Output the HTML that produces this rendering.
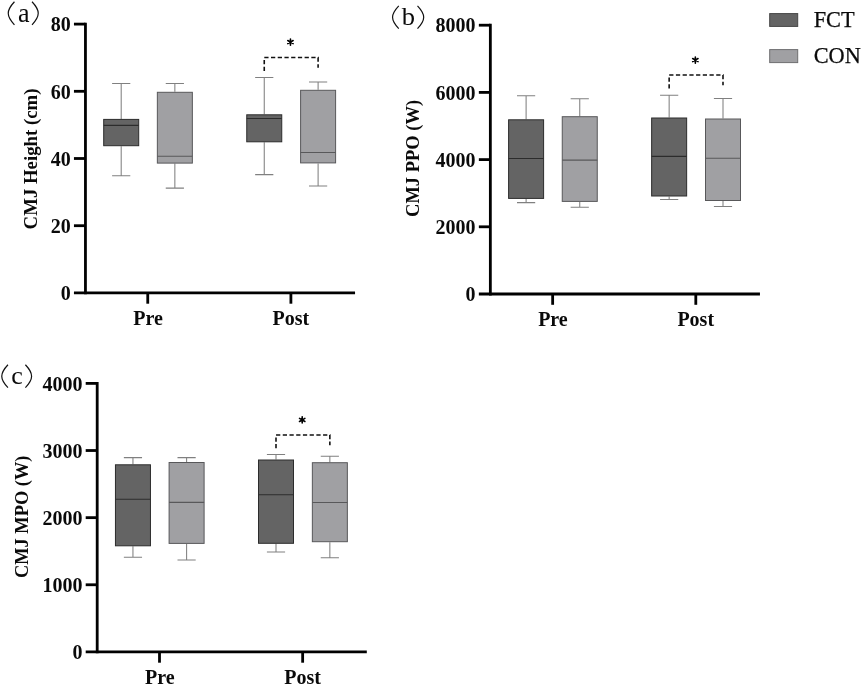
<!DOCTYPE html>
<html>
<head>
<meta charset="utf-8">
<title>CMJ box plots</title>
<style>
html,body{margin:0;padding:0;background:#ffffff;}
body{width:863px;height:686px;overflow:hidden;font-family:'Liberation Serif', serif;}
svg{display:block;will-change:transform;opacity:0.999;}
svg text{font-family:'Liberation Serif', serif;fill:#0a0a0a;}
</style>
</head>
<body>
<svg width="863" height="686" viewBox="0 0 863 686">
<rect x="0" y="0" width="863" height="686" fill="#ffffff"/>
<path d="M121.20,83.40V118.90M121.20,146.20V175.80M112.10,83.40H130.30M112.10,175.80H130.30" stroke="#808080" stroke-width="1.05" fill="none"/>
<rect x="103.70" y="119.40" width="35.00" height="26.30" fill="#646464" stroke="#2c2c2c" stroke-width="1"/>
<path d="M103.70,125.40H138.70" stroke="#2c2c2c" stroke-width="1.1"/>
<path d="M174.85,83.40V91.80M174.85,163.60V188.10M165.75,83.40H183.95M165.75,188.10H183.95" stroke="#808080" stroke-width="1.05" fill="none"/>
<rect x="157.35" y="92.30" width="35.00" height="70.80" fill="#a0a0a3" stroke="#58585a" stroke-width="1"/>
<path d="M157.35,156.30H192.35" stroke="#58585a" stroke-width="1.1"/>
<path d="M264.25,77.50V114.30M264.25,142.30V174.60M255.15,77.50H273.35M255.15,174.60H273.35" stroke="#808080" stroke-width="1.05" fill="none"/>
<rect x="246.75" y="114.80" width="35.00" height="27.00" fill="#646464" stroke="#2c2c2c" stroke-width="1"/>
<path d="M246.75,118.50H281.75" stroke="#2c2c2c" stroke-width="1.1"/>
<path d="M318.10,81.90V89.80M318.10,163.40V186.00M309.00,81.90H327.20M309.00,186.00H327.20" stroke="#808080" stroke-width="1.05" fill="none"/>
<rect x="300.60" y="90.30" width="35.00" height="72.60" fill="#a0a0a3" stroke="#58585a" stroke-width="1"/>
<path d="M300.60,152.50H335.60" stroke="#58585a" stroke-width="1.1"/>
<path d="M85.45,22.70V294.30" stroke="#000" stroke-width="2.8" fill="none"/>
<path d="M73.95,292.90H355.05" stroke="#000" stroke-width="2.8" fill="none"/>
<path d="M73.95,24.10H85.45" stroke="#000" stroke-width="2.8" fill="none"/>
<path d="M73.95,91.30H85.45" stroke="#000" stroke-width="2.8" fill="none"/>
<path d="M73.95,158.50H85.45" stroke="#000" stroke-width="2.8" fill="none"/>
<path d="M73.95,225.70H85.45" stroke="#000" stroke-width="2.8" fill="none"/>
<path d="M147.75,292.90V303.70" stroke="#000" stroke-width="2.8" fill="none"/>
<path d="M290.90,292.90V303.70" stroke="#000" stroke-width="2.8" fill="none"/>
<text x="70.65" y="31.30" text-anchor="end" font-size="20" font-weight="bold">80</text>
<text x="70.65" y="98.50" text-anchor="end" font-size="20" font-weight="bold">60</text>
<text x="70.65" y="165.70" text-anchor="end" font-size="20" font-weight="bold">40</text>
<text x="70.65" y="232.90" text-anchor="end" font-size="20" font-weight="bold">20</text>
<text x="70.65" y="300.10" text-anchor="end" font-size="20" font-weight="bold">0</text>
<text x="148.05" y="325.15" text-anchor="middle" font-size="20" font-weight="bold">Pre</text>
<text x="290.85" y="325.15" text-anchor="middle" font-size="20" font-weight="bold">Post</text>
<text transform="translate(36.90,159.00) rotate(-90)" text-anchor="middle" font-size="18.8" font-weight="bold">CMJ Height (cm)</text>
<path d="M264.25,70.90V57.50H318.10V67.80" stroke="#111" stroke-width="1.6" fill="none" stroke-dasharray="4.25 2.47" stroke-linejoin="miter"/>
<path d="M290.45,39.00L290.45,45.20M287.77,40.55L293.13,43.65M293.13,40.55L287.77,43.65" stroke="#000" stroke-width="1.6" stroke-linecap="round" fill="none"/>
<circle cx="290.45" cy="42.10" r="1.3" fill="#000"/>
<path d="M526.10,95.70V119.30M526.10,198.90V202.60M517.00,95.70H535.20M517.00,202.60H535.20" stroke="#808080" stroke-width="1.05" fill="none"/>
<rect x="508.60" y="119.80" width="35.00" height="78.60" fill="#646464" stroke="#2c2c2c" stroke-width="1"/>
<path d="M508.60,158.50H543.60" stroke="#2c2c2c" stroke-width="1.1"/>
<path d="M579.75,98.70V116.20M579.75,201.90V207.30M570.65,98.70H588.85M570.65,207.30H588.85" stroke="#808080" stroke-width="1.05" fill="none"/>
<rect x="562.25" y="116.70" width="35.00" height="84.70" fill="#a0a0a3" stroke="#58585a" stroke-width="1"/>
<path d="M562.25,160.10H597.25" stroke="#58585a" stroke-width="1.1"/>
<path d="M669.15,95.30V117.50M669.15,196.50V199.40M660.05,95.30H678.25M660.05,199.40H678.25" stroke="#808080" stroke-width="1.05" fill="none"/>
<rect x="651.65" y="118.00" width="35.00" height="78.00" fill="#646464" stroke="#2c2c2c" stroke-width="1"/>
<path d="M651.65,156.40H686.65" stroke="#2c2c2c" stroke-width="1.1"/>
<path d="M723.00,98.40V118.50M723.00,201.00V206.50M713.90,98.40H732.10M713.90,206.50H732.10" stroke="#808080" stroke-width="1.05" fill="none"/>
<rect x="705.50" y="119.00" width="35.00" height="81.50" fill="#a0a0a3" stroke="#58585a" stroke-width="1"/>
<path d="M705.50,158.20H740.50" stroke="#58585a" stroke-width="1.1"/>
<path d="M490.35,23.80V295.40" stroke="#000" stroke-width="2.8" fill="none"/>
<path d="M478.85,294.00H759.95" stroke="#000" stroke-width="2.8" fill="none"/>
<path d="M478.85,25.20H490.35" stroke="#000" stroke-width="2.8" fill="none"/>
<path d="M478.85,92.40H490.35" stroke="#000" stroke-width="2.8" fill="none"/>
<path d="M478.85,159.60H490.35" stroke="#000" stroke-width="2.8" fill="none"/>
<path d="M478.85,226.80H490.35" stroke="#000" stroke-width="2.8" fill="none"/>
<path d="M552.65,294.00V304.80" stroke="#000" stroke-width="2.8" fill="none"/>
<path d="M695.80,294.00V304.80" stroke="#000" stroke-width="2.8" fill="none"/>
<text x="475.55" y="32.40" text-anchor="end" font-size="20" font-weight="bold">8000</text>
<text x="475.55" y="99.60" text-anchor="end" font-size="20" font-weight="bold">6000</text>
<text x="475.55" y="166.80" text-anchor="end" font-size="20" font-weight="bold">4000</text>
<text x="475.55" y="234.00" text-anchor="end" font-size="20" font-weight="bold">2000</text>
<text x="475.55" y="301.20" text-anchor="end" font-size="20" font-weight="bold">0</text>
<text x="552.95" y="326.25" text-anchor="middle" font-size="20" font-weight="bold">Pre</text>
<text x="695.75" y="326.25" text-anchor="middle" font-size="20" font-weight="bold">Post</text>
<text transform="translate(419.40,158.40) rotate(-90)" text-anchor="middle" font-size="18.5" font-weight="bold">CMJ PPO (W)</text>
<path d="M669.15,88.40V75.00H723.00V85.30" stroke="#111" stroke-width="1.6" fill="none" stroke-dasharray="4.25 2.47" stroke-linejoin="miter"/>
<path d="M695.35,57.00L695.35,63.20M692.67,58.55L698.03,61.65M698.03,58.55L692.67,61.65" stroke="#000" stroke-width="1.6" stroke-linecap="round" fill="none"/>
<circle cx="695.35" cy="60.10" r="1.3" fill="#000"/>
<path d="M132.95,457.60V464.30M132.95,546.30V557.20M123.85,457.60H142.05M123.85,557.20H142.05" stroke="#808080" stroke-width="1.05" fill="none"/>
<rect x="115.45" y="464.80" width="35.00" height="81.00" fill="#646464" stroke="#2c2c2c" stroke-width="1"/>
<path d="M115.45,499.30H150.45" stroke="#2c2c2c" stroke-width="1.1"/>
<path d="M186.60,457.60V462.00M186.60,543.90V560.00M177.50,457.60H195.70M177.50,560.00H195.70" stroke="#808080" stroke-width="1.05" fill="none"/>
<rect x="169.10" y="462.50" width="35.00" height="80.90" fill="#a0a0a3" stroke="#58585a" stroke-width="1"/>
<path d="M169.10,502.40H204.10" stroke="#58585a" stroke-width="1.1"/>
<path d="M276.00,454.40V459.50M276.00,543.80V551.90M266.90,454.40H285.10M266.90,551.90H285.10" stroke="#808080" stroke-width="1.05" fill="none"/>
<rect x="258.50" y="460.00" width="35.00" height="83.30" fill="#646464" stroke="#2c2c2c" stroke-width="1"/>
<path d="M258.50,494.80H293.50" stroke="#2c2c2c" stroke-width="1.1"/>
<path d="M329.85,456.30V462.20M329.85,542.20V557.70M320.75,456.30H338.95M320.75,557.70H338.95" stroke="#808080" stroke-width="1.05" fill="none"/>
<rect x="312.35" y="462.70" width="35.00" height="79.00" fill="#a0a0a3" stroke="#58585a" stroke-width="1"/>
<path d="M312.35,502.50H347.35" stroke="#58585a" stroke-width="1.1"/>
<path d="M97.20,382.00V653.30" stroke="#000" stroke-width="2.8" fill="none"/>
<path d="M85.70,651.90H366.80" stroke="#000" stroke-width="2.8" fill="none"/>
<path d="M85.70,383.40H97.20" stroke="#000" stroke-width="2.8" fill="none"/>
<path d="M85.70,450.52H97.20" stroke="#000" stroke-width="2.8" fill="none"/>
<path d="M85.70,517.65H97.20" stroke="#000" stroke-width="2.8" fill="none"/>
<path d="M85.70,584.77H97.20" stroke="#000" stroke-width="2.8" fill="none"/>
<path d="M159.50,651.90V662.70" stroke="#000" stroke-width="2.8" fill="none"/>
<path d="M302.65,651.90V662.70" stroke="#000" stroke-width="2.8" fill="none"/>
<text x="82.40" y="390.60" text-anchor="end" font-size="20" font-weight="bold">4000</text>
<text x="82.40" y="457.72" text-anchor="end" font-size="20" font-weight="bold">3000</text>
<text x="82.40" y="524.85" text-anchor="end" font-size="20" font-weight="bold">2000</text>
<text x="82.40" y="591.98" text-anchor="end" font-size="20" font-weight="bold">1000</text>
<text x="82.40" y="659.10" text-anchor="end" font-size="20" font-weight="bold">0</text>
<text x="159.80" y="684.15" text-anchor="middle" font-size="20" font-weight="bold">Pre</text>
<text x="302.60" y="684.15" text-anchor="middle" font-size="20" font-weight="bold">Post</text>
<text transform="translate(27.50,516.80) rotate(-90)" text-anchor="middle" font-size="18.4" font-weight="bold">CMJ MPO (W)</text>
<path d="M276.00,448.35V434.95H329.85V445.25" stroke="#111" stroke-width="1.6" fill="none" stroke-dasharray="4.25 2.47" stroke-linejoin="miter"/>
<path d="M302.20,416.85L302.20,423.05M299.52,418.40L304.88,421.50M304.88,418.40L299.52,421.50" stroke="#000" stroke-width="1.6" stroke-linecap="round" fill="none"/>
<circle cx="302.20" cy="419.95" r="1.3" fill="#000"/>
<path d="M14.45,1.75C9.75,6.75 8.25,9.78 8.25,13.28C8.25,16.77 9.75,19.80 14.45,24.80" stroke="#111" stroke-width="1.2" fill="none"/>
<path d="M32.03,1.75C36.73,6.75 38.23,9.78 38.23,13.28C38.23,16.77 36.73,19.80 32.03,24.80" stroke="#111" stroke-width="1.2" fill="none"/>
<text transform="translate(23.80,21.50) scale(0.93,1)" text-anchor="middle" font-size="28">a</text>
<path d="M398.76,5.80C394.06,10.80 392.56,13.70 392.56,17.20C392.56,20.70 394.06,23.60 398.76,28.60" stroke="#111" stroke-width="1.2" fill="none"/>
<path d="M417.50,5.80C422.20,10.80 423.70,13.70 423.70,17.20C423.70,20.70 422.20,23.60 417.50,28.60" stroke="#111" stroke-width="1.2" fill="none"/>
<text transform="translate(408.30,25.30) scale(1.02,1)" text-anchor="middle" font-size="26">b</text>
<path d="M7.96,364.76C3.26,369.76 1.76,372.71 1.76,376.21C1.76,379.71 3.26,382.66 7.96,387.66" stroke="#111" stroke-width="1.2" fill="none"/>
<path d="M25.40,364.76C30.10,369.76 31.60,372.71 31.60,376.21C31.60,379.71 30.10,382.66 25.40,387.66" stroke="#111" stroke-width="1.2" fill="none"/>
<text transform="translate(17.00,383.90) scale(1.0,1)" text-anchor="middle" font-size="26">c</text>
<rect x="769.7" y="13.6" width="28" height="12.8" fill="#646464" stroke="#454545" stroke-width="1"/>
<rect x="769.7" y="49.6" width="28" height="13" fill="#a0a0a3" stroke="#6e6e70" stroke-width="1"/>
<text x="813.7" y="27.35" font-size="22.3" stroke="#0a0a0a" stroke-width="0.25">FCT</text>
<text x="813.7" y="63.45" font-size="22.3" stroke="#0a0a0a" stroke-width="0.25">CON</text>
</svg>
</body>
</html>
